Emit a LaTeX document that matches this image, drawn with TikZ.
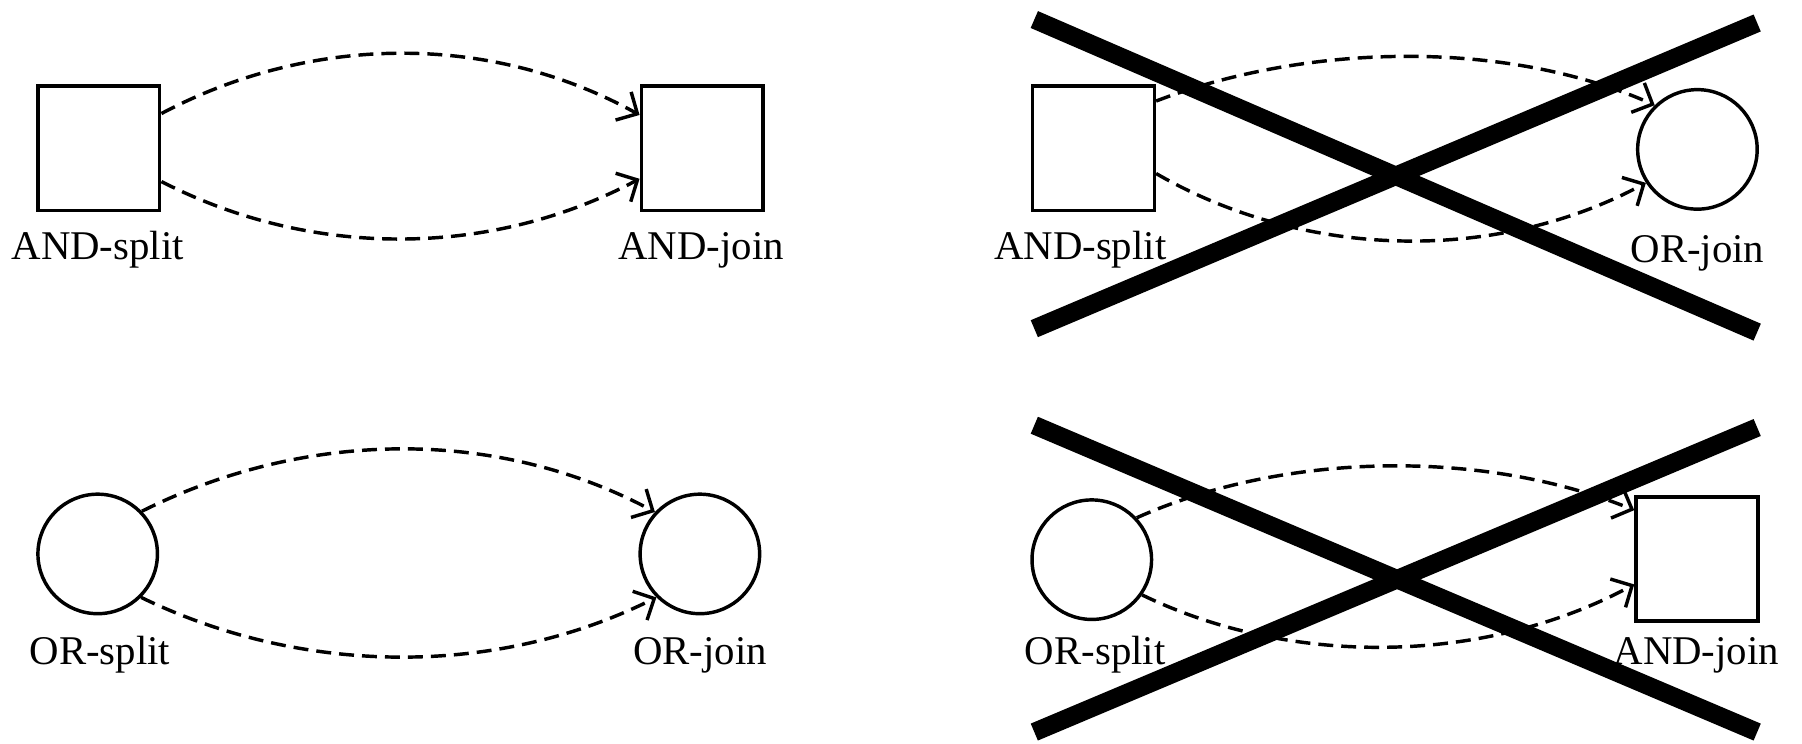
\documentclass[tikz,border=0pt]{standalone}
\usepackage{fontspec}
\setmainfont{Liberation Serif}
\usetikzlibrary{arrows.meta}
\begin{document}
\begin{tikzpicture}[x=1pt,y=1pt,
  box/.style={draw,line width=3pt,rectangle,minimum width=106pt,minimum height=108pt,inner sep=0pt},
  ring/.style={draw,line width=3pt,circle,minimum size=104pt,inner sep=0pt},
  lbl/.style={anchor=base,inner sep=0pt,font=\fontsize{35.5}{40}\selectfont},
  flow/.style={line width=3pt,dash pattern=on 13pt off 7pt,-{Straight Barb[length=14pt,width=28pt,line width=3pt]}},
  cross/.style={line width=16pt,line cap=butt}]
\useasboundingbox (0,0) rectangle (1568,-647);
% top-left
\node[box] (as1) at (86,-129) {};
\node[box] (aj1) at (611,-129) {};
\node[lbl] (las1) at (85,-226) {AND-split};
\node[lbl] (laj1) at (610,-226) {AND-join};
\draw[flow] (as1.29) .. controls +(130,69) and +(-130,72) .. (aj1.152);
\draw[flow] (as1.-28) .. controls +(130,-67) and +(-130,-69) .. (aj1.206);
% bottom-left
\node[ring] (os1) at (85,-482) {};
\node[ring] (oj1) at (609,-482) {};
\node[lbl] (los1) at (87,-578) {OR-split};
\node[lbl] (loj1) at (609,-578) {OR-join};
\draw[flow] (os1.44) .. controls +(140,70) and +(-140,75) .. (oj1.137);
\draw[flow] (os1.-45) .. controls +(140,-68) and +(-140,-70) .. (oj1.225);
% top-right
\node[box] (as2) at (951.5,-129) {};
\node[ring] (oj2) at (1477,-130) {};
\node[lbl] (las2) at (940,-226) {AND-split};
\node[lbl] (loj2) at (1477,-228) {OR-join};
\draw[flow] (as2.37) .. controls +(130,50) and +(-130,58) .. (oj2.134);
\draw[flow] (as2.-22) .. controls +(130,-75) and +(-130,-70) .. (oj2.213);
\coordinate (a1) at (900,-17);
\coordinate (a2) at (1529,-289);
\coordinate (a3) at (900,-286);
\coordinate (a4) at (1529,-20);
\draw[cross] (a1) -- (a2);
\draw[cross] (a3) -- (a4);
% bottom-right
\node[ring] (os2) at (950,-487) {};
\node[box] (aj2) at (1476.5,-486.5) {};
\node[lbl] (los2) at (953,-578) {OR-split};
\node[lbl] (laj2) at (1476,-578) {AND-join};
\draw[flow] (os2.43) .. controls +(130,58) and +(-130,53) .. (aj2.142);
\draw[flow] (os2.-35) .. controls +(130,-63) and +(-130,-70) .. (aj2.202);
\coordinate (b1) at (900,-370);
\coordinate (b2) at (1529,-637);
\coordinate (b3) at (900,-637);
\coordinate (b4) at (1529,-372);
\draw[cross] (b1) -- (b2);
\draw[cross] (b3) -- (b4);
\end{tikzpicture}
\end{document}
